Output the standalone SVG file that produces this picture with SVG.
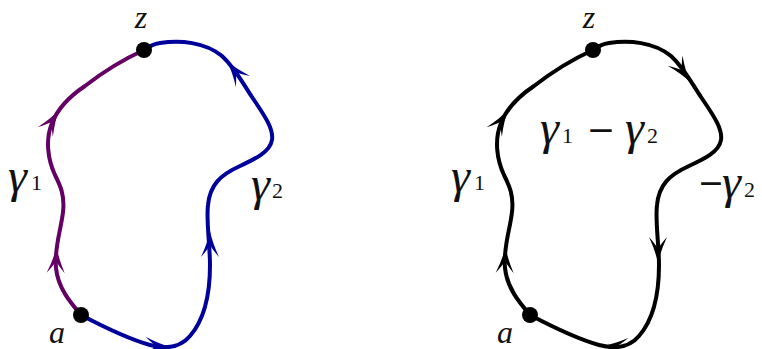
<svg xmlns="http://www.w3.org/2000/svg" xmlns:xlink="http://www.w3.org/1999/xlink" width="762" height="349" viewBox="0 0 762 349">
<style>
.c{fill:none;stroke-width:4;stroke-linecap:round;stroke-linejoin:round}
.pur{stroke:#640064}
.blu{stroke:#00009a}
.blk{stroke:#000}
.dot{fill:#000}
.m{font-family:"Liberation Serif","Times New Roman",serif;font-style:italic;fill:#111}
.g{font-family:"Liberation Serif","Times New Roman",serif;font-style:italic;font-size:48px;fill:#111}
.v{font-size:32px}
.s{font-family:"Liberation Serif","Times New Roman",serif;font-size:22px;fill:#111}
.op{font-family:"Noto Sans",sans-serif;font-size:40px;fill:#111}
</style>
<defs>
<path id="ah" d="M0,0 Q-12,-2.5 -26,-9 Q-18,-2 -14,0 Q-18,2 -26,9 Q-12,2.5 0,0 Z"/>
<path id="g1" d="M81,315 C70,302 58,288 56,268 C54,248 61,230 63,212 C65,195 60,185 55,175 C48,160 45,140 52,123 C58,108 70,96 85,86 C103,72 122,60 144,50"/>
<path id="g2" d="M81,315 C100,325 125,338 150,345 C165,349 180,348 190,336 C204,320 210,295 210,265 C210,245 206,220 208,205 C210,185 220,175 240,166 C255,159 270,152 272,140 C274,128 262,112 252,97 C242,82 235,68 222,56 C205,42 180,40 160,43 C153,44 148,47 144,50"/>
</defs>
<g id="connectors">
  <g id="left-curves">
    <use xlink:href="#g1" class="c pur"/>
    <use xlink:href="#g2" class="c blu"/>
    <g fill="#640064">
      <use xlink:href="#ah" transform="translate(56.6,247) rotate(-88)"/>
      <use xlink:href="#ah" transform="translate(59,110) rotate(-58)"/>
    </g>
    <g fill="#00009a">
      <use xlink:href="#ah" transform="translate(227,61) rotate(-128)"/>
      <use xlink:href="#ah" transform="translate(210,231) rotate(-90)"/>
      <use xlink:href="#ah" transform="translate(171,347) rotate(3)"/>
    </g>
  </g>
  <g id="right-curves" transform="translate(449,0)">
    <use xlink:href="#g1" class="c blk"/>
    <use xlink:href="#g2" class="c blk"/>
    <g fill="#000">
      <use xlink:href="#ah" transform="translate(56.6,247) rotate(-88)"/>
      <use xlink:href="#ah" transform="translate(59,110) rotate(-58)"/>
      <use xlink:href="#ah" transform="translate(241,82) rotate(55)"/>
      <use xlink:href="#ah" transform="translate(209,263) rotate(90)"/>
      <use xlink:href="#ah" transform="translate(153,346) rotate(182)"/>
    </g>
  </g>
</g>
<g id="node-z-left"><circle class="dot" cx="144" cy="50" r="8"/><text class="m v" x="141" y="28" text-anchor="middle">z</text></g>
<g id="node-a-left"><circle class="dot" cx="81" cy="315" r="8"/><text class="m v" x="57" y="343" text-anchor="middle">a</text></g>
<g id="label-g1-left"><text x="8" y="192"><tspan class="g">γ</tspan><tspan class="s" x="31" y="190">1</tspan></text></g>
<g id="label-g2-left"><text x="251" y="200"><tspan class="g">γ</tspan><tspan class="s" x="272" y="198">2</tspan></text></g>
<g id="node-z-right"><circle class="dot" cx="593" cy="50" r="8"/><text class="m v" x="589" y="28" text-anchor="middle">z</text></g>
<g id="node-a-right"><circle class="dot" cx="530" cy="315" r="8"/><text class="m v" x="505" y="343" text-anchor="middle">a</text></g>
<g id="label-g1-right"><text x="451" y="192"><tspan class="g">γ</tspan><tspan class="s" x="474" y="190">1</tspan></text></g>
<g id="label-diff"><text x="540" y="144"><tspan class="g">γ</tspan><tspan class="s" x="562" y="143">1</tspan></text><text class="op" x="588" y="145" textLength="26" lengthAdjust="spacingAndGlyphs">−</text><text x="625" y="144"><tspan class="g">γ</tspan><tspan class="s" x="647" y="143">2</tspan></text></g>
<g id="label-neg-g2"><text class="op" x="699" y="198" textLength="24" lengthAdjust="spacingAndGlyphs">−</text><text x="722" y="198"><tspan class="g">γ</tspan><tspan class="s" x="744" y="197">2</tspan></text></g>
</svg>
